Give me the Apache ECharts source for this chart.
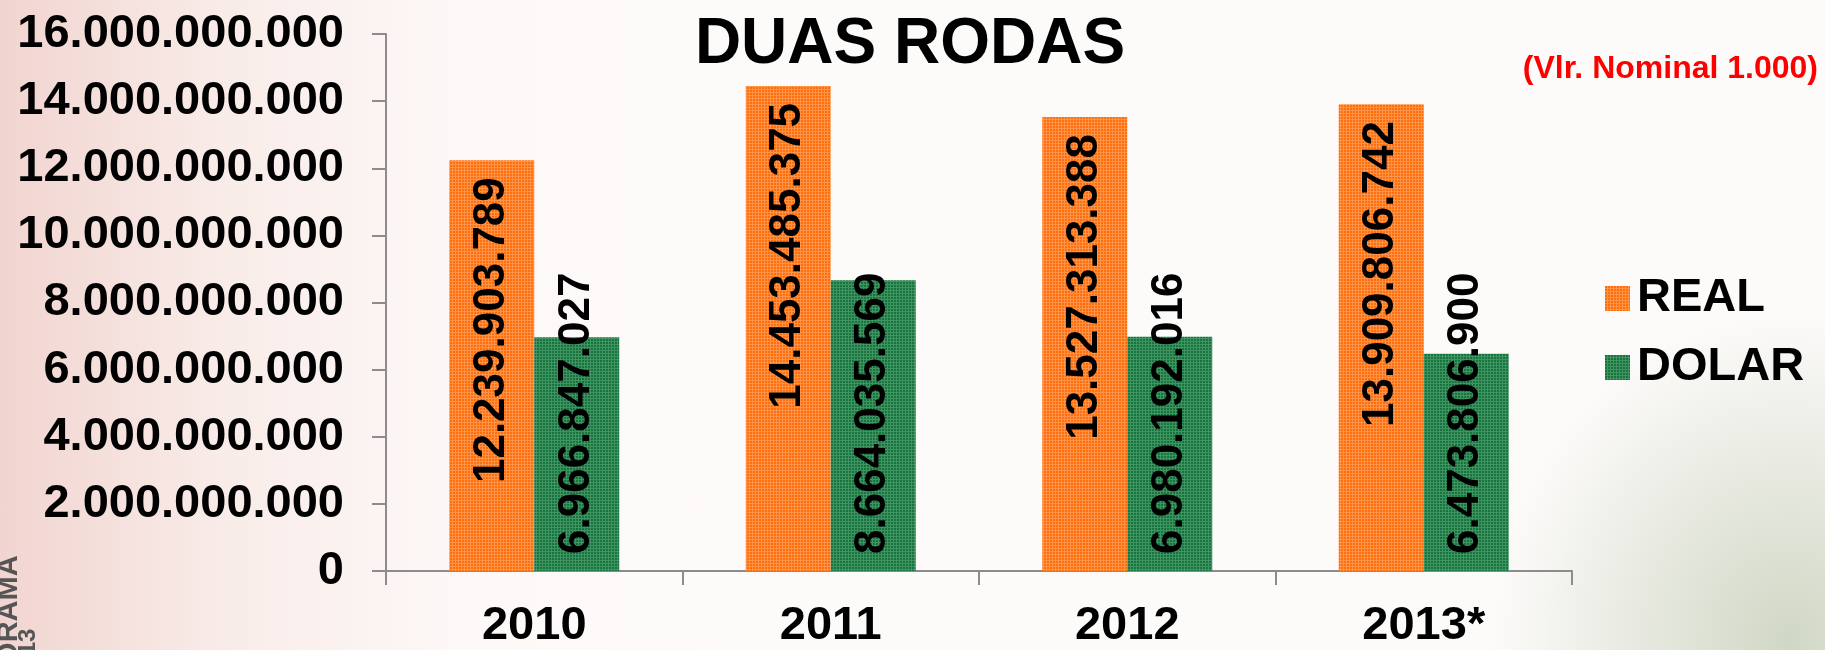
<!DOCTYPE html>
<html>
<head>
<meta charset="utf-8">
<script src="https://cdn.jsdelivr.net/npm/echarts@6/dist/echarts.min.js"></script>
<style>
    html, body { margin: 0; padding: 0; }
    body {
        width: 1825px; height: 650px; overflow: hidden;
        background:
            radial-gradient(ellipse 300px 330px at 1790px 640px, rgba(190, 200, 175, 0.7), rgba(255, 255, 255, 0) 100%),
            linear-gradient(to right, rgba(236, 196, 190, 0.7) 0%, rgba(244, 220, 214, 0.5) 12%, rgba(252, 242, 240, 0.3) 25%, rgba(255, 255, 255, 0) 40%),
            #fdfbfa;
    }
    #main { width: 1825px; height: 650px; }
</style>
</head>
<body>
<div id="main"></div>
<script>
let categories = ['2010', '2011', '2012', '2013*'];
let realValues = [12239903789, 14453485375, 13527313388, 13909806742];
let dolarValues = [6966847027, 8664035569, 6980192016, 6473806900];
let seriesNames = ['REAL', 'DOLAR'];

let fontFamily = '"Liberation Sans", Arial, sans-serif';

// 千分位用点号
function fmt(v) {
    return String(Math.round(v)).replace(/\B(?=(\d{3})+(?!\d))/g, '.');
}

// 柱子的网格纹理
function makePattern(base, line) {
    let c = document.createElement('canvas');
    c.width = 3;
    c.height = 3;
    let ctx = c.getContext('2d');
    ctx.fillStyle = line;
    ctx.fillRect(0, 0, 3, 3);
    ctx.fillStyle = base;
    ctx.fillRect(0, 0, 2, 2);
    return c;
}

let orangeFill = {image: makePattern('#ff6e0c', '#ff9448'), repeat: 'repeat'};
let greenFill = {image: makePattern('#17743e', '#3f9462'), repeat: 'repeat'};

let myChart = echarts.init(document.getElementById('main'));
let option = {
    textStyle: {fontFamily: fontFamily},
    title: [
        {
            text: 'DUAS RODAS',
            left: 905,
            top: 8,
            textAlign: 'center',
            textStyle: {fontSize: 64, fontWeight: 'bold', color: '#000', fontFamily: fontFamily}
        },
        {
            text: '(Vlr. Nominal 1.000)',
            right: 2,
            top: 48,
            textStyle: {fontSize: 32, fontWeight: 'bold', color: '#ff0000', fontFamily: fontFamily}
        }
    ],
    legend: {
        orient: 'vertical',
        left: 1600,
        top: 270,
        itemWidth: 25,
        itemHeight: 25,
        itemGap: 22,
        icon: 'rect',
        data: seriesNames,
        textStyle: {fontSize: 47, fontWeight: 'bold', color: '#000', fontFamily: fontFamily, padding: [0, 0, 0, 2]}
    },
    grid: {
        left: 386,
        right: 253,
        top: 34,
        bottom: 76,
        containLabel: false
    },
    xAxis: {
        type: 'category',
        data: categories,
        axisLine: {lineStyle: {color: '#8c8c8c', width: 2}},
        axisTick: {show: true, length: 14, lineStyle: {color: '#8c8c8c', width: 2}},
        axisLabel: {
            margin: 32,
            fontSize: 47,
            fontWeight: 'bold',
            color: '#000',
            fontFamily: fontFamily
        }
    },
    yAxis: {
        type: 'value',
        min: 0,
        max: 16000000000,
        interval: 2000000000,
        axisLine: {show: true, lineStyle: {color: '#8c8c8c', width: 2}},
        axisTick: {show: true, length: 14, lineStyle: {color: '#8c8c8c', width: 2}},
        splitLine: {show: false},
        axisLabel: {
            margin: 42,
            fontSize: 47,
            fontWeight: 'bold',
            color: '#000',
            fontFamily: fontFamily,
            formatter: function (v) {
                return fmt(v);
            }
        }
    },
    series: [
        {
            name: 'REAL',
            type: 'bar',
            data: realValues,
            barWidth: 85,
            barGap: '0%',
            itemStyle: {color: orangeFill},
            label: {
                show: true,
                position: 'insideTop',
                distance: 17,
                rotate: 90,
                align: 'right',
                verticalAlign: 'middle',
                fontSize: 44,
                fontWeight: 'bold',
                color: '#000',
                fontFamily: fontFamily,
                formatter: function (p) {
                    return fmt(p.value);
                }
            }
        },
        {
            name: 'DOLAR',
            type: 'bar',
            data: dolarValues,
            barWidth: 85,
            barGap: '0%',
            itemStyle: {color: greenFill},
            label: {
                show: true,
                position: 'insideBottom',
                distance: 17,
                rotate: 90,
                align: 'left',
                verticalAlign: 'middle',
                fontSize: 44,
                fontWeight: 'bold',
                color: '#000',
                fontFamily: fontFamily,
                formatter: function (p) {
                    return fmt(p.value);
                }
            }
        }
    ],
    graphic: [
        {
            type: 'text',
            x: -6,
            y: 724,
            rotation: Math.PI / 2,
            silent: true,
            style: {
                text: 'PANORAMA',
                fill: '#555',
                font: 'bold 29px ' + fontFamily,
                align: 'left',
                verticalAlign: 'top'
            }
        },
        {
            type: 'text',
            x: 16,
            y: 682,
            rotation: Math.PI / 2,
            silent: true,
            style: {
                text: '2013',
                fill: '#555',
                font: 'bold 24px ' + fontFamily,
                align: 'left',
                verticalAlign: 'top'
            }
        }
    ]
};
myChart.setOption(option);
</script>
</body>
</html>
